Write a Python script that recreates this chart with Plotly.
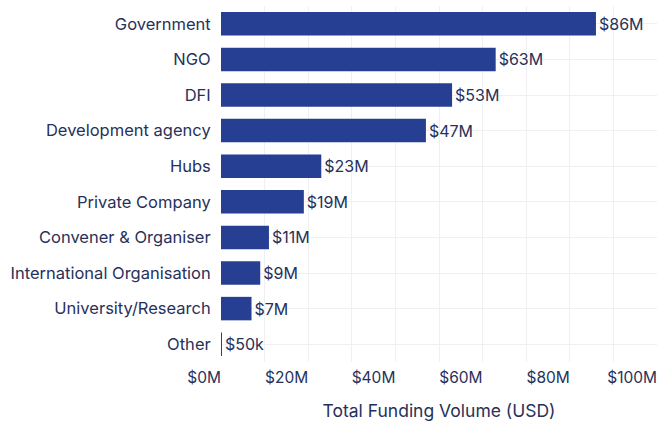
import plotly.graph_objects as go

# Dados (de cima para baixo)
categorias = [
    "Government", "NGO", "DFI", "Development agency", "Hubs",
    "Private Company", "Convener & Organiser", "International Organisation",
    "University/Research", "Other",
]
valores = [86e6, 63e6, 53e6, 47e6, 23e6, 19e6, 11e6, 9e6, 7e6, 0.05e6]
rotulos = ["$86M", "$63M", "$53M", "$47M", "$23M", "$19M", "$11M", "$9M", "$7M", "$50k"]
ticks_x = [0, 20e6, 40e6, 60e6, 80e6, 100e6]
ticks_txt = ["$0M", "$20M", "$40M", "$60M", "$80M", "$100M"]

COR_BARRA = "#273F92"
COR_TEXTO = "#27315A"
COR_GRADE = "#F0F0F3"
FONTE = "Inter, Lato, sans-serif"

fig = go.Figure()
fig.add_trace(go.Bar(
    x=valores, y=categorias, orientation="h",
    marker=dict(color=COR_BARRA, line=dict(width=0)),
    text=rotulos, textposition="outside", cliponaxis=False,
    textfont=dict(family=FONTE, size=16, color=COR_TEXTO),
    width=0.66,
))

fig.update_layout(
    width=662, height=421,
    margin=dict(l=221, r=5, t=6, b=59),
    plot_bgcolor="white", paper_bgcolor="white",
    showlegend=False,
    font=dict(family=FONTE, color=COR_TEXTO, size=15),
)
fig.update_xaxes(
    range=[0, 100e6],
    tickvals=ticks_x, ticktext=ticks_txt,
    ticklabelposition="outside left",
    ticklabelstandoff=4,
    showgrid=True, gridcolor=COR_GRADE, gridwidth=1,
    minor=dict(dtick=10e6, showgrid=True, gridcolor=COR_GRADE),
    zeroline=False, showline=False, ticks="",
    tickfont=dict(size=15.5, color=COR_TEXTO),
    automargin=False,
    title=dict(text="Total Funding Volume (USD)",
               font=dict(size=17.5, color=COR_TEXTO), standoff=19),
)
fig.update_yaxes(
    autorange="reversed",
    showgrid=True, gridcolor=COR_GRADE, gridwidth=1,
    showline=False, ticks="", ticksuffix="  ",
    automargin=False,
    tickfont=dict(size=16.5, color=COR_TEXTO),
)

# tira a margem padrao do body para a figura ocupar a janela toda
fig.write_html(
    "out.html",
    config={"displayModeBar": False},
    post_script="document.body.style.margin='0';document.body.style.overflow='hidden';",
)
